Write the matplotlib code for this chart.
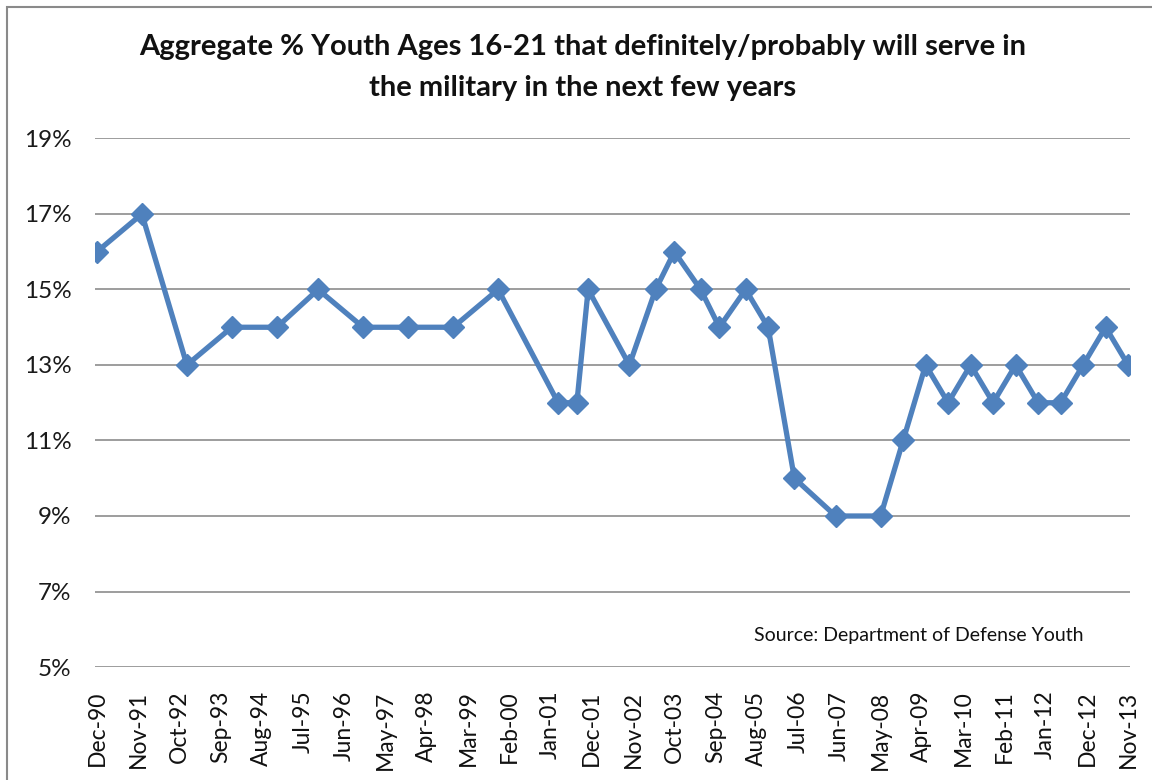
import numpy as np
import matplotlib
matplotlib.use("Agg")
import matplotlib.pyplot as plt
from matplotlib.patches import Rectangle

# survey dates (year-month) and % youth who definitely/probably will serve
survey_dates = [
    "1990-12", "1991-12", "1992-12", "1993-12", "1994-12",
    "1995-11", "1996-11", "1997-11", "1998-11", "1999-11",
    "2001-03", "2001-08", "2001-11", "2002-10", "2003-05",
    "2003-10", "2004-05", "2004-10", "2005-05", "2005-11",
    "2006-06", "2007-05", "2008-05", "2008-11", "2009-05",
    "2009-11", "2010-05", "2010-11", "2011-05", "2011-11",
    "2012-05", "2012-11", "2013-05", "2013-11",
]
pct_serve = [
    16, 17, 13, 14, 14,
    15, 14, 14, 14, 15,
    12, 12, 15, 13, 15,
    16, 15, 14, 15, 14,
    10, 9, 9, 11, 13,
    12, 13, 12, 13, 12,
    12, 13, 14, 13,
]
tick_labels = [
    "Dec-90", "Nov-91", "Oct-92", "Sep-93", "Aug-94", "Jul-95", "Jun-96",
    "May-97", "Apr-98", "Mar-99", "Feb-00", "Jan-01", "Dec-01", "Nov-02",
    "Oct-03", "Sep-04", "Aug-05", "Jul-06", "Jun-07", "May-08", "Apr-09",
    "Mar-10", "Feb-11", "Jan-12", "Dec-12", "Nov-13",
]
y_ticks = [5, 7, 9, 11, 13, 15, 17, 19]


def month_index(s):
    """Months since Dec-1990."""
    y, m = s.split("-")
    return (int(y) - 1990) * 12 + int(m) - 12


x = np.array([month_index(d) for d in survey_dates])
tick_pos = [month_index("1990-12") + 11 * k for k in range(len(tick_labels))]

plt.rcParams["font.family"] = ["Lato", "DejaVu Sans"]
blue = "#4F81BD"

fig = plt.figure(figsize=(11.52, 7.8), dpi=100)
ax = fig.add_axes([95 / 1152, 1 - 667 / 780, (1130 - 95) / 1152, (667 - 138.5) / 780])

ax.plot(x, pct_serve, color=blue, linewidth=3.8, marker="D", markersize=11,
        markerfacecolor=blue, markeredgecolor=blue, solid_joinstyle="miter")

ax.set_xlim(-0.5, 275.5)
ax.set_ylim(5, 19)
ax.set_yticks(y_ticks)
ax.set_yticklabels([f"{v}%" for v in y_ticks])
ax.set_xticks(tick_pos)
ax.set_xticklabels(tick_labels, rotation=90)
ax.tick_params(axis="y", length=0, pad=17, labelsize=17.5, labelcolor="#1a1a1a")
ax.tick_params(axis="x", length=0, pad=17, labelsize=16.5, labelcolor="#111111")
for s in ax.spines.values():
    s.set_visible(False)
ax.yaxis.grid(True, color="#8c8c8c", linewidth=1.2)
ax.xaxis.grid(False)
ax.set_axisbelow(True)

ax.text(1083 / 1152, 1 - 635 / 780, "Source: Department of Defense Youth",
        transform=fig.transFigure, ha="right", va="center", fontsize=14,
        color="#111111")

fig.text(583 / 1152, 1 - 47 / 780,
         "Aggregate % Youth Ages 16-21 that definitely/probably will serve in",
         ha="center", va="center", fontsize=21, fontweight="bold", color="#111111")
fig.text(583 / 1152, 1 - 88 / 780, "the military in the next few years",
         ha="center", va="center", fontsize=21, fontweight="bold", color="#111111")

# outer chart border (right and bottom are cropped in the original)
fig.patches.append(Rectangle((7 / 1152, -0.1), 1.2, 1.1 - 7 / 780,
                             transform=fig.transFigure, fill=False,
                             edgecolor="#8a8a8a", linewidth=1.5))

fig.savefig("out.png", dpi=100)
